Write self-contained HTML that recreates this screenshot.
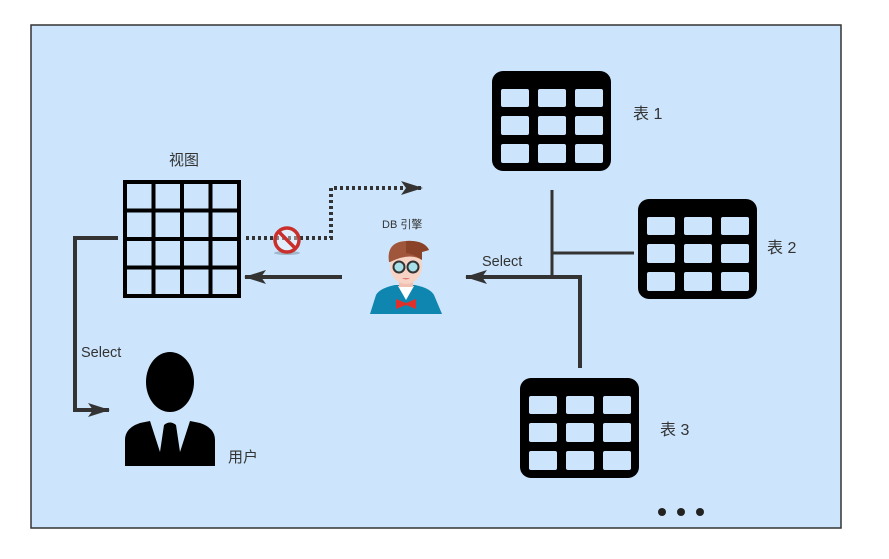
<!DOCTYPE html>
<html><head><meta charset="utf-8"><style>
body{margin:0;width:889px;height:554px;background:#fff;overflow:hidden}
text{font-family:"Liberation Sans","Noto Sans CJK SC",sans-serif;fill:#333}
</style></head><body>
<svg width="889" height="554" viewBox="0 0 889 554" xmlns="http://www.w3.org/2000/svg">
<defs>
<marker id="ahb" markerWidth="22" markerHeight="14" refX="21" refY="7" orient="auto" markerUnits="userSpaceOnUse">
<path d="M0,0 L22,7 L0,14 L5,7 Z" fill="#333"/></marker>
<g id="tbl">
<rect x="0" y="0" width="119" height="100" rx="11" fill="#000"/>
<g fill="#cce5fc">
<rect x="9" y="18" width="28" height="18" rx="2"/><rect x="46" y="18" width="28" height="18" rx="2"/><rect x="83" y="18" width="28" height="18" rx="2"/>
<rect x="9" y="45" width="28" height="19" rx="2"/><rect x="46" y="45" width="28" height="19" rx="2"/><rect x="83" y="45" width="28" height="19" rx="2"/>
<rect x="9" y="73" width="28" height="19" rx="2"/><rect x="46" y="73" width="28" height="19" rx="2"/><rect x="83" y="73" width="28" height="19" rx="2"/>
</g></g>
</defs>
<rect x="31" y="25" width="810" height="503" fill="#cce5fc" stroke="#333" stroke-width="1.5"/>

<rect x="125" y="182" width="114" height="114" fill="#cce5fc" stroke="#000" stroke-width="4"/>
<g stroke="#000" stroke-width="4">
<line x1="153.5" y1="182" x2="153.5" y2="296"/><line x1="182" y1="182" x2="182" y2="296"/><line x1="210.5" y1="182" x2="210.5" y2="296"/>
<line x1="125" y1="210.5" x2="239" y2="210.5"/><line x1="125" y1="239" x2="239" y2="239"/><line x1="125" y1="267.5" x2="239" y2="267.5"/>
</g>
<text x="169" y="165" font-size="15">视图</text>

<use href="#tbl" x="492" y="71"/>
<use href="#tbl" x="638" y="199"/>
<use href="#tbl" x="520" y="378"/>
<text x="633" y="119" font-size="16">表 1</text>
<text x="767" y="253" font-size="16">表 2</text>
<text x="660" y="435" font-size="16">表 3</text>

<g stroke="#333" fill="none">
<line x1="552" y1="190" x2="552" y2="276" stroke-width="3"/>
<line x1="553" y1="253" x2="634" y2="253" stroke-width="3"/>
<polyline points="580,368 580,277 466,277" stroke-width="4" marker-end="url(#ahb)"/>
<line x1="342" y1="277" x2="245" y2="277" stroke-width="4" marker-end="url(#ahb)"/>
<polyline points="118,238 75,238 75,410 109,410" stroke-width="4" marker-end="url(#ahb)"/>
<polyline points="246,238 331,238 331,188 422,188" stroke-width="4" stroke-dasharray="3,3" marker-end="url(#ahb)"/>
</g>
<text x="482" y="266" font-size="14.5">Select</text>
<text x="81" y="357" font-size="14.5">Select</text>

<ellipse cx="287" cy="253" rx="13" ry="2" fill="#9fb8cc"/>
<circle cx="287" cy="240" r="12" fill="#fff" fill-opacity="0.4" stroke="#c9302c" stroke-width="3.5"/>
<line x1="279" y1="232" x2="295" y2="248" stroke="#c9302c" stroke-width="3.5"/>

<text x="382" y="228" font-size="11">DB 引擎</text>
<path d="M370,314 L376,295 Q380,288 395,285 L415,285 Q430,288 434,295 L442,314 Z" fill="#0e86b0"/>
<path d="M398,286 L406,300 L414,286 Z" fill="#fff"/>
<path d="M396,299 L406,303 L416,299 L416,309 L406,305 L396,309 Z" fill="#e0302c"/>
<rect x="399" y="274" width="14" height="13" fill="#f1c0b0"/>
<ellipse cx="406" cy="266" rx="16" ry="18" fill="#f7d3c5"/>
<path d="M389,262 Q386,242 406,241 Q424,240 429,250 L422,252 L422,260 Q410,252 390,262 Z" fill="#a0563a"/>
<path d="M406,241 Q424,240 429,250 L422,252 L422,260 Q414,254 406,253 Z" fill="#8a4228"/>
<circle cx="399" cy="267" r="5.5" fill="#a8e0ea" stroke="#333" stroke-width="2"/>
<circle cx="413" cy="267" r="5.5" fill="#a8e0ea" stroke="#333" stroke-width="2"/>
<path d="M402,278 Q406,281 410,278 Z" fill="#e07a70"/>

<ellipse cx="170" cy="382" rx="24" ry="30" fill="#000"/>
<path d="M125,466 L125,440 Q125,428 140,423 L150,421 L160,452 L164,425 Q170,420 176,425 L180,452 L190,421 L200,423 Q215,428 215,440 L215,466 Z" fill="#000"/>
<text x="228" y="462" font-size="15">用户</text>

<circle cx="662" cy="512" r="4" fill="#222"/>
<circle cx="681" cy="512" r="4" fill="#222"/>
<circle cx="700" cy="512" r="4" fill="#222"/>
</svg>
</body></html>
